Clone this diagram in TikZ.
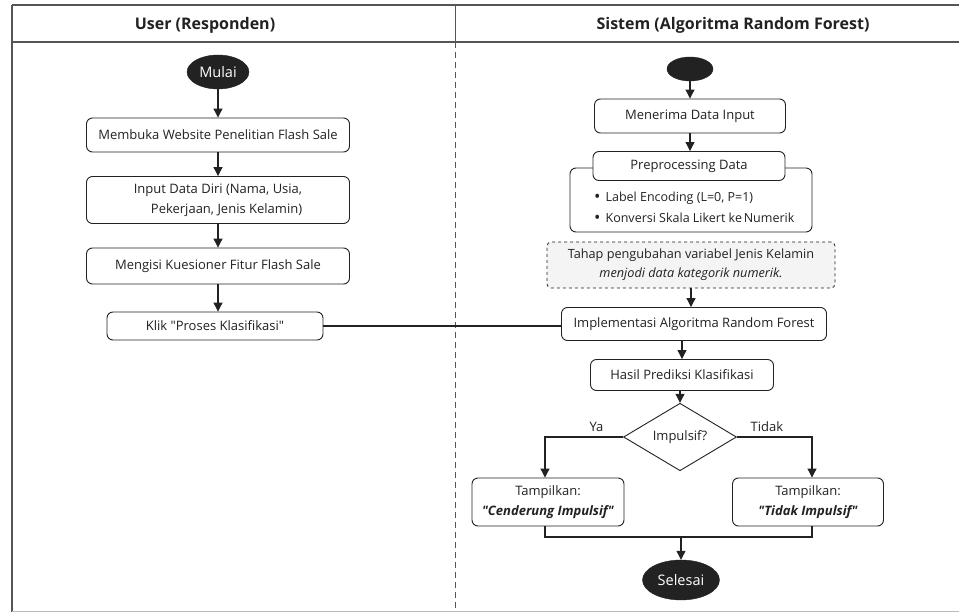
\documentclass[tikz,border=0pt]{standalone}
\usepackage{fontspec}
\setmainfont{Open Sans}
\usetikzlibrary{arrows.meta,shapes.geometric,calc}
\definecolor{frameline}{HTML}{555555}
\definecolor{ink}{HTML}{222222}
\definecolor{notefill}{HTML}{F4F4F4}
\newcommand{\listdot}{\raisebox{-1.2pt}{\fontsize{17}{17}\selectfont\textbullet}}
\tikzset{
  procbox/.style={draw=ink,line width=0.9pt,rounded corners=6pt,fill=white,
    inner sep=2pt,font=\fontsize{13}{20}\selectfont,text=ink},
  termnode/.style={ellipse,fill=ink,draw=ink,inner sep=0pt,text=white,
    font=\fontsize{14.5}{16}\selectfont},
  decision/.style={diamond,draw=ink,line width=0.9pt,fill=white,inner sep=0pt,
    font=\fontsize{13}{16}\selectfont,text=ink},
  notebox/.style={draw=ink,dashed,line width=0.8pt,rounded corners=4pt,fill=notefill,
    inner sep=2pt,font=\fontsize{12.7}{19}\selectfont,text=ink,align=center},
  flow/.style={draw=ink,line width=1.1pt,-{Triangle[length=9pt,width=9pt]}},
  link/.style={draw=ink,line width=1.1pt},
  lanehead/.style={font=\fontsize{16}{18}\selectfont\bfseries,text=ink},
  edgelabel/.style={font=\fontsize{13}{16}\selectfont,text=ink}
}
\begin{document}
\begin{tikzpicture}[x=1pt,y=-1pt]
\useasboundingbox (0,0) rectangle (959,612);
\fill[white] (0,0) rectangle (959,612);

% swimlane frame
\draw[frameline,line width=1.4pt] (12,5) -- (959,5);
\draw[frameline,line width=1.4pt] (12,42) -- (959,42);
\draw[frameline,line width=1.4pt] (12,5) -- (12,612);
\draw[frameline!40,line width=0.8pt] (12,611) -- (959,611);
\draw[frameline,line width=1pt] (455,5) -- (455,42);
\draw[frameline,line width=1pt,dash pattern=on 6pt off 4pt] (455,42) -- (455,612);
\node[lanehead] (laneuser) at (205,25) {User (Responden)};
\node[lanehead] (lanesys) at (733,25) {Sistem (Algoritma Random Forest)};

% user lane
\node[termnode,minimum width=62pt,minimum height=34pt] (mulai) at (218,72) {Mulai};
\node[procbox,minimum width=263pt,minimum height=34pt] (buka) at (218,135)
  {Membuka Website Penelitian Flash Sale};
\node[procbox,minimum width=263pt,minimum height=47pt,align=right] (isidiri) at (218,200)
  {Input Data Diri (Nama, Usia,\\Pekerjaan, Jenis Kelamin)};
\node[procbox,minimum width=263pt,minimum height=36pt] (kuesioner) at (218,266)
  {Mengisi Kuesioner Fitur Flash Sale};
\node[procbox,minimum width=216pt,minimum height=28pt] (klik) at (215,326)
  {Klik \textquotedbl Proses Klasifikasi\textquotedbl};

% system lane
\node[termnode,minimum width=46pt,minimum height=24pt] (mulaisys) at (690,69) {};
\node[procbox,minimum width=191pt,minimum height=34pt] (terima) at (690,116)
  {Menerima Data Input};
\node[draw=ink,line width=0.9pt,rounded corners=6pt,minimum width=242pt,
  minimum height=64pt] (prepouter) at (691,200) {};
\node[procbox,minimum width=192pt,minimum height=29pt] (prep) at (689,166)
  {Preprocessing Data};
\node[font=\fontsize{12.5}{21}\selectfont,text=ink,align=left,anchor=west,inner sep=0pt]
  (preplist) at (594,208)
  {\listdot\hspace{5pt}Label Encoding (L=0, P=1)\\
   \listdot\hspace{5pt}Konversi Skala Likert ke\hspace{-1.5pt} Numerik};
\node[notebox,minimum width=288pt,minimum height=46pt] (catatan) at (691,265)
  {Tahap pengubahan variabel Jenis Kelamin\\\textit{menjodi data kategorik numerik.}};
\node[procbox,minimum width=265pt,minimum height=33pt] (impl) at (694,324)
  {Implementasi Algoritma Random Forest};
\node[procbox,minimum width=183pt,minimum height=31pt] (hasil) at (682,375)
  {Hasil Prediksi Klasifikasi};
\node[decision,minimum width=113pt,minimum height=57pt] (cek) at (680,437)
  {Impulsif?};
\node[procbox,minimum width=152pt,minimum height=48pt,align=center] (cenderung) at (548,502)
  {Tampilkan:\\\textbf{\textit{\textquotedbl Cenderung Impulsif\textquotedbl}}};
\node[procbox,minimum width=151pt,minimum height=48pt,align=center] (tidak) at (808,502)
  {Tampilkan:\\\textbf{\textit{\textquotedbl Tidak Impulsif\textquotedbl}}};
\node[termnode,minimum width=77pt,minimum height=40pt] (selesai) at (681,580) {Selesai};
\coordinate (gabung) at (681,537);

% user lane connectors
\draw[flow] (mulai) -- (buka);
\draw[flow] (buka) -- (isidiri);
\draw[flow] (isidiri) -- (kuesioner);
\draw[flow] (kuesioner.south) -- (kuesioner.south |- klik.north);
\draw[link] (klik.east) -- (klik.east -| impl.west);

% system lane connectors
\draw[flow] (mulaisys) -- (terima);
\draw[flow] (terima.south) -- (terima.south |- prep.north);
\draw[flow] (catatan.south) -- (catatan.south |- impl.north);
\draw[flow] (impl.south -| hasil) -- (hasil.north);
\draw[flow] (hasil.south -| cek) -- (cek.north);
\draw[flow] (cek.west) -| node[edgelabel,pos=0.17,above=1pt] (labelya) {Ya} ($(cenderung.north)+(-3,0)$);
\draw[flow] (cek.east) -| node[edgelabel,pos=0.2,above=1pt] (labeltidak) {Tidak} ($(tidak.north)+(4,0)$);
\draw[link] ($(cenderung.south)+(-3,0)$) |- (gabung) -| ($(tidak.south)+(4,0)$);
\draw[flow] (gabung) -- (selesai);
\end{tikzpicture}
\end{document}
